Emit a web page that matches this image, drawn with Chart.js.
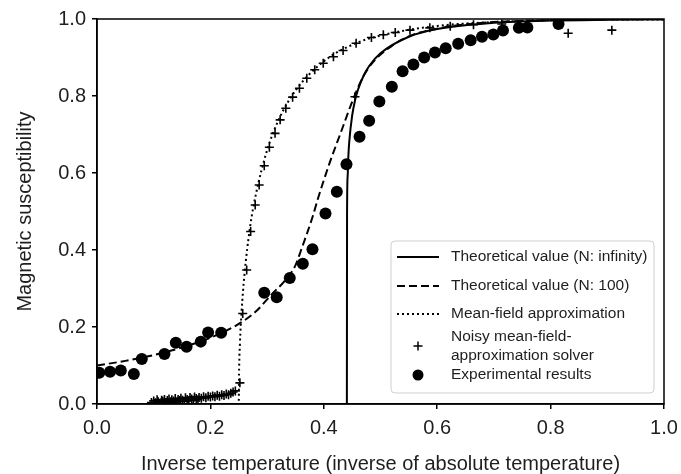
<!DOCTYPE html>
<html>
<head>
<meta charset="utf-8">
<script src="https://cdn.jsdelivr.net/npm/chart.js@4.4.1/dist/chart.umd.min.js"></script>
<style>
  html, body { margin: 0; padding: 0; background: #fff; }
</style>
</head>
<body>
<canvas id="chart" width="681" height="474"></canvas>
<script>
// ---- data ----
const xTicks = [0, 0.2, 0.4, 0.6, 0.8, 1.0];
const yTicks = [0, 0.2, 0.4, 0.6, 0.8, 1.0];

// Theoretical value (N: infinity)
const infX = [0.1, 0.4407, 0.441, 0.442, 0.4435, 0.445, 0.45, 0.455, 0.46, 0.47, 0.48, 0.5, 0.55, 0.6, 0.7, 0.8, 0.9, 1.0];
const infY = [0, 0, 0.49, 0.59, 0.649, 0.683, 0.749, 0.788, 0.815, 0.852, 0.878, 0.911, 0.954, 0.974, 0.990, 0.996, 0.998, 0.999];

// Theoretical value (N: 100)
const n100X = [0, 0.05, 0.1, 0.15, 0.2, 0.25, 0.28, 0.31, 0.33, 0.35, 0.36, 0.38, 0.39, 0.41, 0.43, 0.45, 0.47, 0.49, 0.52, 0.55, 0.6, 0.65, 0.7, 0.8, 0.9, 1.0];
const n100Y = [0.10, 0.112, 0.127, 0.147, 0.172, 0.208, 0.24, 0.288, 0.318, 0.36, 0.40, 0.485, 0.535, 0.625, 0.705, 0.785, 0.852, 0.893, 0.93, 0.955, 0.975, 0.986, 0.992, 0.997, 0.999, 1.0];

// Mean-field approximation
const mfX = [0, 0.25, 0.2505, 0.252, 0.255, 0.26, 0.27, 0.28, 0.3, 0.32, 0.35, 0.4, 0.45, 0.5, 0.6, 0.7, 0.8, 0.9, 1.0];
const mfY = [0, 0, 0.077, 0.154, 0.24, 0.335, 0.46, 0.543, 0.659, 0.737, 0.814, 0.89, 0.933, 0.957, 0.982, 0.992, 0.997, 0.999, 0.999];

// Noisy mean-field-approximation solver
const noisyX = [0.096, 0.100, 0.103, 0.106, 0.108, 0.111, 0.114, 0.116, 0.119, 0.122, 0.124, 0.127, 0.130, 0.132,
  0.135, 0.138, 0.140, 0.143, 0.146, 0.148, 0.151, 0.154, 0.156, 0.159, 0.162, 0.164, 0.167, 0.170, 0.172,
  0.175, 0.178, 0.180, 0.184, 0.188, 0.192, 0.196, 0.200, 0.204, 0.208, 0.212, 0.216, 0.220, 0.224, 0.228,
  0.232, 0.236, 0.240, 0.244, 0.252, 0.257, 0.264, 0.271, 0.279, 0.286, 0.295,
  0.304, 0.314, 0.323, 0.333, 0.345, 0.357, 0.370, 0.384, 0.399, 0.417, 0.434, 0.457, 0.455, 0.484, 0.505,
  0.526, 0.552, 0.587, 0.623, 0.664, 0.714, 0.831, 0.908];
const noisyY = [0.004, 0.008, 0.003, 0.011, 0.006, 0.002, 0.010, 0.007, 0.012, 0.004, 0.009, 0.013, 0.006, 0.011,
  0.008, 0.014, 0.005, 0.012, 0.009, 0.015, 0.010, 0.007, 0.016, 0.012, 0.009, 0.017, 0.013, 0.010, 0.018,
  0.014, 0.011, 0.017, 0.015, 0.019, 0.016, 0.020, 0.018, 0.021, 0.019, 0.023, 0.020, 0.024, 0.022, 0.026,
  0.024, 0.028, 0.031, 0.034, 0.055, 0.235, 0.348, 0.448, 0.517, 0.569, 0.619,
  0.667, 0.703, 0.738, 0.768, 0.797, 0.820, 0.846, 0.868, 0.885, 0.902, 0.918, 0.937, 0.798, 0.952, 0.959,
  0.965, 0.971, 0.977, 0.981, 0.985, 0.987, 0.963, 0.971];

// Experimental results
const expX = [0.004, 0.023, 0.042, 0.065, 0.079, 0.119, 0.139, 0.158, 0.183, 0.196, 0.219, 0.295, 0.317, 0.340,
  0.363, 0.380, 0.403, 0.423, 0.440, 0.463, 0.480, 0.498, 0.520, 0.539, 0.558, 0.577, 0.596, 0.615, 0.637,
  0.659, 0.679, 0.699, 0.716, 0.744, 0.759, 0.814];
const expY = [0.081, 0.084, 0.087, 0.078, 0.117, 0.130, 0.159, 0.149, 0.162, 0.186, 0.185, 0.289, 0.277, 0.327,
  0.364, 0.402, 0.495, 0.551, 0.623, 0.694, 0.736, 0.786, 0.824, 0.864, 0.882, 0.900, 0.913, 0.924, 0.936,
  0.945, 0.954, 0.960, 0.970, 0.977, 0.978, 0.987];

const legendLines = [
  ['Theoretical value (N: infinity)'],
  ['Theoretical value (N: 100)'],
  ['Mean-field approximation'],
  ['Noisy mean-field-', 'approximation solver'],
  ['Experimental results']
];

const pts = (xs, ys) => xs.map((x, i) => ({ x: x, y: ys[i] }));
const FONT = "'Liberation Sans', Arial, Helvetica, sans-serif";
const TEXT = '#1e1e1e';

// frame around the plot + matplotlib-like legend
const framePlugin = {
  id: 'frame',
  afterDraw(chart) {
    const ctx = chart.ctx, a = chart.chartArea;
    ctx.save();
    ctx.strokeStyle = '#000';
    ctx.lineWidth = 1.5;
    ctx.strokeRect(a.left, a.top, a.right - a.left, a.bottom - a.top);

    const w = 263, h = 152;
    const bx = a.right - 10 - w, by = a.bottom - 11 - h;
    ctx.beginPath();
    ctx.roundRect(bx, by, w, h, 4);
    ctx.fillStyle = 'rgba(255,255,255,0.85)';
    ctx.fill();
    ctx.strokeStyle = '#cfcfcf';
    ctx.lineWidth = 1;
    ctx.stroke();

    const rowY = [16, 45, 73, 105, 134];
    ctx.font = '15.5px ' + FONT;
    ctx.textBaseline = 'middle';
    chart.data.datasets.forEach((ds, i) => {
      const cy = by + rowY[i];
      ctx.strokeStyle = '#000';
      ctx.fillStyle = '#000';
      if (ds.showLine) {
        ctx.beginPath();
        ctx.lineWidth = ds.borderWidth;
        ctx.setLineDash(ds.borderDash || []);
        ctx.moveTo(bx + 6, cy);
        ctx.lineTo(bx + 48, cy);
        ctx.stroke();
        ctx.setLineDash([]);
      } else if (ds.pointStyle === 'cross') {
        ctx.beginPath();
        ctx.lineWidth = 1.5;
        ctx.moveTo(bx + 22.5, cy); ctx.lineTo(bx + 31.5, cy);
        ctx.moveTo(bx + 27, cy - 4.5); ctx.lineTo(bx + 27, cy + 4.5);
        ctx.stroke();
      } else {
        ctx.beginPath();
        ctx.arc(bx + 27, cy, 5.5, 0, Math.PI * 2);
        ctx.fill();
      }
      ctx.fillStyle = TEXT;
      const lines = legendLines[i];
      lines.forEach((t, k) => {
        ctx.fillText(t, bx + 60, cy + (k - (lines.length - 1) / 2) * 19);
      });
    });
    ctx.restore();
  }
};

new Chart(document.getElementById('chart'), {
  type: 'scatter',
  data: {
    datasets: [
      {
        label: 'Theoretical value (N: infinity)',
        data: pts(infX, infY),
        showLine: true,
        borderColor: '#000',
        borderWidth: 2,
        pointRadius: 0,
        cubicInterpolationMode: 'monotone'
      },
      {
        label: 'Theoretical value (N: 100)',
        data: pts(n100X, n100Y),
        showLine: true,
        borderColor: '#000',
        borderWidth: 2,
        borderDash: [8, 4],
        pointRadius: 0,
        cubicInterpolationMode: 'monotone'
      },
      {
        label: 'Mean-field approximation',
        data: pts(mfX, mfY),
        showLine: true,
        borderColor: '#000',
        borderWidth: 2,
        borderDash: [2, 3],
        pointRadius: 0,
        cubicInterpolationMode: 'monotone'
      },
      {
        label: 'Noisy mean-field-approximation solver',
        data: pts(noisyX, noisyY),
        showLine: false,
        pointStyle: 'cross',
        pointRadius: 4.5,
        borderColor: '#000',
        borderWidth: 1.6
      },
      {
        label: 'Experimental results',
        data: pts(expX, expY),
        showLine: false,
        pointStyle: 'circle',
        pointRadius: 6,
        backgroundColor: '#000',
        borderColor: '#000',
        borderWidth: 0
      }
    ]
  },
  options: {
    responsive: false,
    animation: false,
    layout: { padding: { left: 0, top: 19, right: 17, bottom: 0 } },
    plugins: {
      legend: { display: false },
      tooltip: { enabled: false }
    },
    scales: {
      x: {
        type: 'linear',
        min: 0,
        max: 1,
        afterBuildTicks: s => { s.ticks = xTicks.map(v => ({ value: v })); },
        afterFit: s => { s.height = 70; s.paddingLeft = 0; s.paddingRight = 0; },
        ticks: {
          color: TEXT,
          font: { family: FONT, size: 20 },
          padding: 7,
          callback: v => v.toFixed(1)
        },
        grid: { drawOnChartArea: false, drawTicks: true, tickLength: 5, color: '#000', lineWidth: 1.5 },
        border: { display: true, color: '#000', width: 1.5 },
        title: {
          display: true,
          text: 'Inverse temperature (inverse of absolute temperature)',
          color: TEXT,
          font: { family: FONT, size: 20 },
          padding: { top: 0, bottom: -2 }
        }
      },
      y: {
        type: 'linear',
        min: 0,
        max: 1,
        afterBuildTicks: s => { s.ticks = yTicks.map(v => ({ value: v })); },
        afterFit: s => { s.width = 97; s.paddingTop = 0; s.paddingBottom = 0; },
        ticks: {
          color: TEXT,
          font: { family: FONT, size: 20 },
          padding: 6,
          callback: v => v.toFixed(1)
        },
        grid: { drawOnChartArea: false, drawTicks: true, tickLength: 5, color: '#000', lineWidth: 1.5 },
        border: { display: true, color: '#000', width: 1.5 },
        title: {
          display: true,
          text: 'Magnetic susceptibility',
          color: TEXT,
          font: { family: FONT, size: 20 },
          padding: { top: 13, bottom: 0 }
        }
      }
    }
  },
  plugins: [framePlugin]
});
</script>
</body>
</html>
